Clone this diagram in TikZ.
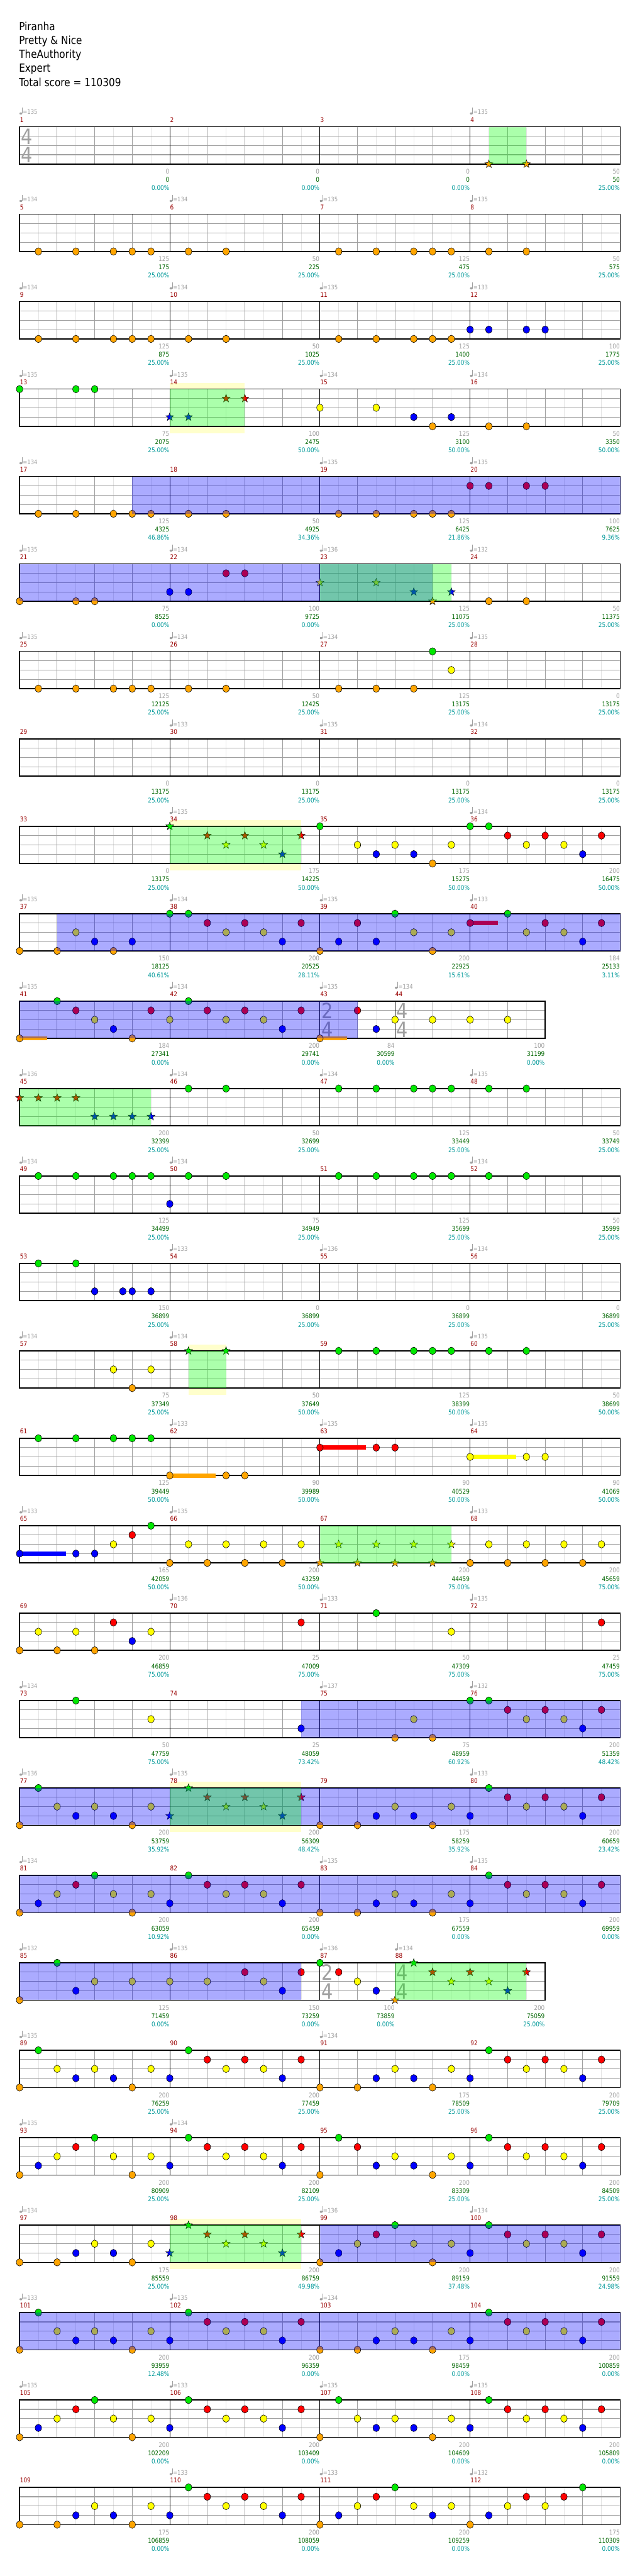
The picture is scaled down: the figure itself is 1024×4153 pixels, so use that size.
\documentclass[tikz,border=0pt]{standalone}
\usepackage{fontspec}
\setmainfont{DejaVu Sans}[FakeStretch=0.86]
\usepackage{tikz}
\definecolor{lane0}{HTML}{00E800}
\definecolor{lane1}{HTML}{FF0000}
\definecolor{lane2}{HTML}{FFFF00}
\definecolor{lane3}{HTML}{0000FF}
\definecolor{lane4}{HTML}{FFA500}
\definecolor{measred}{HTML}{990000}
\definecolor{markgrey}{HTML}{A0A0A0}
\definecolor{totalgreen}{HTML}{006600}
\definecolor{sharecyan}{HTML}{009999}
\definecolor{gridlight}{HTML}{E4E4E4}
\definecolor{gridmid}{HTML}{A0A0A0}
\definecolor{whammyyellow}{HTML}{FFFFCC}

\def\xo{31.6}
\def\ew{30.27}

\newcommand{\rowtop}[1]{\pgfmathsetmacro{\ytop}{204.5+(#1-1)*140.95}}

\newcommand{\staff}[3]{%
  \pgfmathtruncatemacro{\nlast}{#2-1}%
  \fill[white] (\xo,#1) rectangle ({\xo+#2*\ew},{#1+60});
  \foreach \kk in {1,...,\nlast}{%
    \pgfmathtruncatemacro{\oddk}{mod(\kk,2)}%
    \ifnum\oddk=1\relax
      \draw[eighthline] ({\xo+\kk*\ew},#1) -- ({\xo+\kk*\ew},{#1+60});
    \else
      \draw[beatline] ({\xo+\kk*\ew},#1) -- ({\xo+\kk*\ew},{#1+60});
    \fi}
  \foreach \lanek in {1,2,3}
    \draw[laneline] (\xo,{#1+\lanek*15}) -- ({\xo+#2*\ew},{#1+\lanek*15});
  \foreach \barx in {#3}
    \draw[barline] ({\xo+\barx*\ew},#1) -- ({\xo+\barx*\ew},{#1+60});
  \draw[staffframe] (\xo,#1) rectangle ({\xo+#2*\ew},{#1+60});
}

\newcommand{\gems}[3]{%
  \foreach \ei in {#3}
    \filldraw[gem, fill=lane#2] ({\xo+\ei*\ew},{#1+#2*15}) ellipse [x radius=5.2pt, y radius=6pt];}

\newcommand{\stars}[3]{%
  \foreach \ei in {#3}
    \filldraw[starnote, fill=lane#2] ({\xo+\ei*\ew},{#1+#2*15})
      +(90:6.8pt) -- +(126:2.8pt) -- +(162:6.8pt) -- +(198:2.8pt) -- +(234:6.8pt)
      -- +(270:2.8pt) -- +(306:6.8pt) -- +(342:2.8pt) -- +(18:6.8pt) -- +(54:2.8pt) -- cycle;}

\newcommand{\sustain}[4]{%
  \fill[lane#2] ({\xo+#3*\ew},{#1+#2*15-3.5}) rectangle ({\xo+#4*\ew},{#1+#2*15+3.5});}

\newcommand{\spark}[3]{\fill[activation] ({\xo+#2*\ew},#1) rectangle ({\xo+#3*\ew},{#1+60});}
\newcommand{\phrase}[3]{\fill[spphrase] ({\xo+#2*\ew},#1) rectangle ({\xo+#3*\ew},{#1+60});}
\newcommand{\glow}[3]{\fill[whammy] ({\xo+#2*\ew},{#1-10}) rectangle ({\xo+#3*\ew},{#1+71});}

\newcommand{\timesig}[5]{%
  \node[sigdigit] (#5up) at ({\xo+#2*\ew+2},{#1+28}) {#3};
  \node[sigdigit] (#5dn) at ({\xo+#2*\ew+2},{#1+58}) {#4};}

\newcommand{\tempos}[2]{%
  \foreach \ei/\meas/\bpm in {#2}{
    \fill[markgrey] ({\xo+\ei*\ew+2},{#1-21.5}) ellipse [x radius=2.3pt, y radius=1.8pt];
    \draw[tempomark] ({\xo+\ei*\ew+4.1},{#1-21.5}) -- ({\xo+\ei*\ew+4.1},{#1-31});
    \node[tempotext] (tp\meas) at ({\xo+\ei*\ew+5},{#1-20}) {=\bpm};}}

\newcommand{\mnums}[3]{%
  \foreach \ei [count=\ii from 0] in {#3}{
    \pgfmathtruncatemacro{\meas}{#2+\ii}
    \node[measnum] (mn\meas) at ({\xo+\ei*\ew+0.5},{#1-7.6}) {\meas};}}

\newcommand{\scores}[3]{%
  \foreach \ei/\gn/\tot/\pct [count=\ii from 0] in {#3}{
    \pgfmathtruncatemacro{\meas}{#2+\ii}
    \node[gain] (gn\meas) at ({\xo+\ei*\ew-0.5},{#1+76}) {\gn};
    \node[total] (tt\meas) at ({\xo+\ei*\ew-0.5},{#1+89.3}) {\tot};
    \node[share] (sh\meas) at ({\xo+\ei*\ew-0.5},{#1+102.6}) {\pct\%};}}

\begin{document}
\begin{tikzpicture}[
  x=1pt, y=-1pt,
  eighthline/.style={draw=gridlight, line width=0.8pt},
  beatline/.style={draw=gridmid, line width=0.8pt},
  laneline/.style={draw=gridmid, line width=1.2pt},
  barline/.style={draw=black, line width=0.8pt},
  staffframe/.style={draw=black, line width=1.4pt},
  gem/.style={draw=black, line width=0.6pt},
  starnote/.style={draw=black, line width=0.5pt, line join=miter},
  activation/.style={fill=lane3, fill opacity=0.33},
  spphrase/.style={fill=green, fill opacity=0.33},
  whammy/.style={fill=whammyyellow},
  tempomark/.style={draw=markgrey, line width=0.7pt},
  tempotext/.style={anchor=base west, inner sep=0pt, text=markgrey, font=\fontsize{10}{12}\selectfont},
  measnum/.style={anchor=base west, inner sep=0pt, text=measred, font=\fontsize{10.5}{12}\selectfont},
  gain/.style={anchor=base east, inner sep=0pt, text=markgrey, font=\fontsize{10.5}{12}\selectfont},
  total/.style={anchor=base east, inner sep=0pt, text=totalgreen, font=\fontsize{10.5}{12}\selectfont},
  share/.style={anchor=base east, inner sep=0pt, text=sharecyan, font=\fontsize{10.5}{12}\selectfont},
  sigdigit/.style={anchor=base west, inner sep=0pt, text=markgrey, font=\fontsize{34}{34}\selectfont},
  titletext/.style={anchor=base west, inner sep=0pt, font=\fontsize{18}{20}\selectfont}
]
\useasboundingbox (0,0) rectangle (1024,4153);
\fill[white] (0,0) rectangle (1024,4153);

\node[titletext] (song) at (30.5,48.8) {Piranha};
\node[titletext] (band) at (30.5,71.4) {Pretty \& Nice};
\node[titletext] (charter) at (30.5,94) {TheAuthority};
\node[titletext] (level) at (30.5,116.6) {Expert};
\node[titletext] (total) at (30.5,139.2) {Total score = 110309};

% measures 1-4
\rowtop{1}
\staff{\ytop}{32}{8,16,24}
\timesig{\ytop}{0}{4}{4}{sigA}
\stars{\ytop}{4}{25,27}
\phrase{\ytop}{25}{27}
\tempos{\ytop}{0/1/135,24/4/135}
\mnums{\ytop}{1}{0,8,16,24}
\scores{\ytop}{1}{8/0/0/0.00,16/0/0/0.00,24/0/0/0.00,32/50/50/25.00}

% measures 5-8
\rowtop{2}
\staff{\ytop}{32}{8,16,24}
\gems{\ytop}{4}{1,3,5,6,7,9,11,17,19,21,22,23,25,27}
\tempos{\ytop}{0/5/134,8/6/134,16/7/135,24/8/135}
\mnums{\ytop}{5}{0,8,16,24}
\scores{\ytop}{5}{8/125/175/25.00,16/50/225/25.00,24/125/475/25.00,32/50/575/25.00}

% measures 9-12
\rowtop{3}
\staff{\ytop}{32}{8,16,24}
\gems{\ytop}{4}{1,3,5,6,7,9,11,17,19,21,22,23}
\gems{\ytop}{3}{24,25,27,28}
\tempos{\ytop}{0/9/134,8/10/134,16/11/135,24/12/133}
\mnums{\ytop}{9}{0,8,16,24}
\scores{\ytop}{9}{8/125/875/25.00,16/50/1025/25.00,24/125/1400/25.00,32/100/1775/25.00}

% measures 13-16
\rowtop{4}
\glow{\ytop}{8}{12}
\staff{\ytop}{32}{8,16,24}
\gems{\ytop}{0}{0,3,4}
\gems{\ytop}{2}{16,19}
\gems{\ytop}{3}{21,23}
\gems{\ytop}{4}{22,25,27}
\stars{\ytop}{3}{8,9}
\stars{\ytop}{1}{11,12}
\phrase{\ytop}{8}{12}
\tempos{\ytop}{0/13/135,8/14/135,16/15/134,24/16/134}
\mnums{\ytop}{13}{0,8,16,24}
\scores{\ytop}{13}{8/75/2075/25.00,16/100/2475/50.00,24/125/3100/50.00,32/50/3350/50.00}

% measures 17-20
\rowtop{5}
\staff{\ytop}{32}{8,16,24}
\gems{\ytop}{4}{1,3,5,6,7,9,11,17,19,21,22,23}
\gems{\ytop}{1}{24,25,27,28}
\spark{\ytop}{6}{32}
\tempos{\ytop}{0/17/134,16/19/135,24/20/135}
\mnums{\ytop}{17}{0,8,16,24}
\scores{\ytop}{17}{8/125/4325/46.86,16/50/4925/34.36,24/125/6425/21.86,32/100/7625/9.36}

% measures 21-24
\rowtop{6}
\staff{\ytop}{32}{8,16,24}
\gems{\ytop}{4}{0,3,4,25,27}
\gems{\ytop}{3}{8,9}
\gems{\ytop}{1}{11,12}
\stars{\ytop}{2}{16,19}
\stars{\ytop}{3}{21,23}
\stars{\ytop}{4}{22}
\spark{\ytop}{0}{22}
\phrase{\ytop}{16}{23}
\tempos{\ytop}{0/21/135,8/22/134,16/23/136,24/24/132}
\mnums{\ytop}{21}{0,8,16,24}
\scores{\ytop}{21}{8/75/8525/0.00,16/100/9725/0.00,24/125/11075/25.00,32/50/11375/25.00}

% measures 25-28
\rowtop{7}
\staff{\ytop}{32}{8,16,24}
\gems{\ytop}{4}{1,3,5,6,7,9,11,17,19,21}
\gems{\ytop}{0}{22}
\gems{\ytop}{2}{23}
\tempos{\ytop}{0/25/135,8/26/134,16/27/134,24/28/135}
\mnums{\ytop}{25}{0,8,16,24}
\scores{\ytop}{25}{8/125/12125/25.00,16/50/12425/25.00,24/125/13175/25.00,32/0/13175/25.00}

% measures 29-32
\rowtop{8}
\staff{\ytop}{32}{8,16,24}
\tempos{\ytop}{8/30/133,16/31/135,24/32/134}
\mnums{\ytop}{29}{0,8,16,24}
\scores{\ytop}{29}{8/0/13175/25.00,16/0/13175/25.00,24/0/13175/25.00,32/0/13175/25.00}

% measures 33-36
\rowtop{9}
\glow{\ytop}{8}{15}
\staff{\ytop}{32}{8,16,24}
\stars{\ytop}{0}{8}
\stars{\ytop}{1}{10,12,15}
\stars{\ytop}{2}{11,13}
\stars{\ytop}{3}{14}
\gems{\ytop}{0}{16,24,25}
\gems{\ytop}{1}{26,28,31}
\gems{\ytop}{2}{18,20,23,27,29}
\gems{\ytop}{3}{19,21,30}
\gems{\ytop}{4}{22}
\phrase{\ytop}{8}{15}
\tempos{\ytop}{8/34/135,24/36/134}
\mnums{\ytop}{33}{0,8,16,24}
\scores{\ytop}{33}{8/0/13175/25.00,16/175/14225/50.00,24/175/15275/50.00,32/200/16475/50.00}

% measures 37-40
\rowtop{10}
\staff{\ytop}{32}{8,16,24}
\sustain{\ytop}{1}{24}{25.48}
\gems{\ytop}{4}{0,2,5,16,22}
\gems{\ytop}{2}{3,11,13,21,23,27,29}
\gems{\ytop}{3}{4,6,14,17,19,30}
\gems{\ytop}{0}{8,9,20,26}
\gems{\ytop}{1}{10,12,15,18,24,28,31}
\spark{\ytop}{2}{32}
\tempos{\ytop}{0/37/135,8/38/134,16/39/135,24/40/133}
\mnums{\ytop}{37}{0,8,16,24}
\scores{\ytop}{37}{8/150/18125/40.61,16/200/20525/28.11,24/200/22925/15.61,32/184/25133/3.11}

% measures 41-44
\rowtop{11}
\staff{\ytop}{28}{8,16,20}
\timesig{\ytop}{16}{2}{4}{sigB}
\timesig{\ytop}{20}{4}{4}{sigC}
\sustain{\ytop}{4}{0}{1.46}
\sustain{\ytop}{4}{16}{17.46}
\gems{\ytop}{4}{0,6,16}
\gems{\ytop}{0}{2,9}
\gems{\ytop}{1}{3,7,10,12,15,18}
\gems{\ytop}{2}{4,8,11,13,20,22,24,26}
\gems{\ytop}{3}{5,14,19}
\spark{\ytop}{0}{18}
\tempos{\ytop}{0/41/135,8/42/134,16/43/135,20/44/134}
\mnums{\ytop}{41}{0,8,16,20}
\scores{\ytop}{41}{8/184/27341/0.00,16/200/29741/0.00,20/84/30599/0.00,28/100/31199/0.00}

% measures 45-48
\rowtop{12}
\staff{\ytop}{32}{8,16,24}
\stars{\ytop}{1}{0,1,2,3}
\stars{\ytop}{3}{4,5,6,7}
\gems{\ytop}{0}{9,11,17,19,21,22,23,25,27}
\phrase{\ytop}{0}{7}
\tempos{\ytop}{0/45/136,8/46/134,16/47/134,24/48/135}
\mnums{\ytop}{45}{0,8,16,24}
\scores{\ytop}{45}{8/200/32399/25.00,16/50/32699/25.00,24/125/33449/25.00,32/50/33749/25.00}

% measures 49-52
\rowtop{13}
\staff{\ytop}{32}{8,16,24}
\gems{\ytop}{0}{1,3,5,6,7,9,11,17,19,21,22,23,25,27}
\gems{\ytop}{3}{8}
\tempos{\ytop}{0/49/134,8/50/134,24/52/134}
\mnums{\ytop}{49}{0,8,16,24}
\scores{\ytop}{49}{8/125/34499/25.00,16/75/34949/25.00,24/125/35699/25.00,32/50/35999/25.00}

% measures 53-56
\rowtop{14}
\staff{\ytop}{32}{8,16,24}
\gems{\ytop}{0}{1,3}
\gems{\ytop}{3}{4,5.5,6,7}
\tempos{\ytop}{8/54/133,16/55/136,24/56/134}
\mnums{\ytop}{53}{0,8,16,24}
\scores{\ytop}{53}{8/150/36899/25.00,16/0/36899/25.00,24/0/36899/25.00,32/0/36899/25.00}

% measures 57-60
\rowtop{15}
\glow{\ytop}{9}{11}
\staff{\ytop}{32}{8,16,24}
\gems{\ytop}{2}{5,7}
\gems{\ytop}{4}{6}
\gems{\ytop}{0}{17,19,21,22,23,25,27}
\stars{\ytop}{0}{9,11}
\phrase{\ytop}{9}{11}
\tempos{\ytop}{0/57/134,8/58/134,24/60/135}
\mnums{\ytop}{57}{0,8,16,24}
\scores{\ytop}{57}{8/75/37349/25.00,16/50/37649/50.00,24/125/38399/50.00,32/50/38699/50.00}

% measures 61-64
\rowtop{16}
\staff{\ytop}{32}{8,16,24}
\sustain{\ytop}{4}{8}{10.45}
\sustain{\ytop}{1}{16}{18.45}
\sustain{\ytop}{2}{24}{26.45}
\gems{\ytop}{0}{1,3,5,6,7}
\gems{\ytop}{4}{8,11,12}
\gems{\ytop}{1}{16,19,20}
\gems{\ytop}{2}{24,27,28}
\tempos{\ytop}{8/62/133,16/63/135,24/64/135}
\mnums{\ytop}{61}{0,8,16,24}
\scores{\ytop}{61}{8/125/39449/50.00,16/90/39989/50.00,24/90/40529/50.00,32/90/41069/50.00}

% measures 65-68
\rowtop{17}
\staff{\ytop}{32}{8,16,24}
\sustain{\ytop}{3}{0}{2.48}
\gems{\ytop}{3}{0,3,4}
\gems{\ytop}{2}{5,9,11,13,15,25,27,29,31}
\gems{\ytop}{1}{6}
\gems{\ytop}{0}{7}
\gems{\ytop}{4}{8,10,12,14,24,26,28,30}
\stars{\ytop}{2}{17,19,21,23}
\stars{\ytop}{4}{16,18,20,22}
\phrase{\ytop}{16}{23}
\tempos{\ytop}{0/65/133,8/66/135,24/68/133}
\mnums{\ytop}{65}{0,8,16,24}
\scores{\ytop}{65}{8/165/42059/50.00,16/200/43259/50.00,24/200/44459/75.00,32/200/45659/75.00}

% measures 69-72
\rowtop{18}
\staff{\ytop}{32}{8,16,24}
\gems{\ytop}{4}{0,2,4}
\gems{\ytop}{2}{1,3,7,23}
\gems{\ytop}{1}{5,15,31}
\gems{\ytop}{3}{6}
\gems{\ytop}{0}{19}
\tempos{\ytop}{8/70/136,16/71/133,24/72/135}
\mnums{\ytop}{69}{0,8,16,24}
\scores{\ytop}{69}{8/200/46859/75.00,16/25/47009/75.00,24/50/47309/75.00,32/25/47459/75.00}

% measures 73-76
\rowtop{19}
\staff{\ytop}{32}{8,16,24}
\gems{\ytop}{0}{3,24,25}
\gems{\ytop}{2}{7,21,27,29}
\gems{\ytop}{3}{15,30}
\gems{\ytop}{4}{20,22}
\gems{\ytop}{1}{26,28,31}
\spark{\ytop}{15}{32}
\tempos{\ytop}{0/73/134,16/75/137,24/76/132}
\mnums{\ytop}{73}{0,8,16,24}
\scores{\ytop}{73}{8/50/47759/75.00,16/25/48059/73.42,24/75/48959/60.92,32/200/51359/48.42}

% measures 77-80
\rowtop{20}
\glow{\ytop}{8}{15}
\staff{\ytop}{32}{8,16,24}
\gems{\ytop}{4}{0,6,16,18,22}
\gems{\ytop}{0}{1,25}
\gems{\ytop}{2}{2,4,7,20,23,27,29}
\gems{\ytop}{3}{3,5,19,21,24,30}
\gems{\ytop}{1}{26,28,31}
\stars{\ytop}{3}{8,14}
\stars{\ytop}{0}{9}
\stars{\ytop}{1}{10,12,15}
\stars{\ytop}{2}{11,13}
\spark{\ytop}{0}{32}
\phrase{\ytop}{8}{15}
\tempos{\ytop}{0/77/136,8/78/135,24/80/133}
\mnums{\ytop}{77}{0,8,16,24}
\scores{\ytop}{77}{8/200/53759/35.92,16/200/56309/48.42,24/175/58259/35.92,32/200/60659/23.42}

% measures 81-84
\rowtop{21}
\staff{\ytop}{32}{8,16,24}
\gems{\ytop}{4}{0,6,16,18,22}
\gems{\ytop}{3}{1,8,14,19,21,24,30}
\gems{\ytop}{2}{2,5,7,11,13,20,23,27,29}
\gems{\ytop}{1}{3,10,12,15,26,28,31}
\gems{\ytop}{0}{4,9,25}
\spark{\ytop}{0}{32}
\tempos{\ytop}{0/81/134,16/83/135,24/84/135}
\mnums{\ytop}{81}{0,8,16,24}
\scores{\ytop}{81}{8/200/63059/10.92,16/200/65459/0.00,24/175/67559/0.00,32/200/69959/0.00}

% measures 85-88
\rowtop{22}
\staff{\ytop}{28}{8,16,20}
\timesig{\ytop}{16}{2}{4}{sigD}
\timesig{\ytop}{20}{4}{4}{sigE}
\gems{\ytop}{4}{0}
\gems{\ytop}{0}{2,16}
\gems{\ytop}{3}{3,14,19}
\gems{\ytop}{2}{4,6,8,10,13,18}
\gems{\ytop}{1}{12,15,17}
\stars{\ytop}{4}{20}
\stars{\ytop}{0}{21}
\stars{\ytop}{1}{22,24,27}
\stars{\ytop}{2}{23,25}
\stars{\ytop}{3}{26}
\spark{\ytop}{0}{15}
\phrase{\ytop}{20}{27}
\tempos{\ytop}{0/85/132,8/86/135,16/87/136,20/88/134}
\mnums{\ytop}{85}{0,8,16,20}
\scores{\ytop}{85}{8/125/71459/0.00,16/150/73259/0.00,20/100/73859/0.00,28/200/75059/25.00}

% measures 89-92
\rowtop{23}
\staff{\ytop}{32}{8,16,24}
\gems{\ytop}{4}{0,6,16,18,22}
\gems{\ytop}{0}{1,9,25}
\gems{\ytop}{2}{2,4,7,11,13,20,23,27,29}
\gems{\ytop}{3}{3,5,8,14,19,21,24,30}
\gems{\ytop}{1}{10,12,15,26,28,31}
\tempos{\ytop}{0/89/135,16/91/134}
\mnums{\ytop}{89}{0,8,16,24}
\scores{\ytop}{89}{8/200/76259/25.00,16/200/77459/25.00,24/175/78509/25.00,32/200/79709/25.00}

% measures 93-96
\rowtop{24}
\staff{\ytop}{32}{8,16,24}
\gems{\ytop}{4}{0,6,16,22}
\gems{\ytop}{3}{1,8,14,19,21,24,30}
\gems{\ytop}{2}{2,5,7,11,13,20,23,27,29}
\gems{\ytop}{1}{3,10,12,15,18,26,28,31}
\gems{\ytop}{0}{4,9,17,25}
\tempos{\ytop}{0/93/135,8/94/134}
\mnums{\ytop}{93}{0,8,16,24}
\scores{\ytop}{93}{8/200/80909/25.00,16/200/82109/25.00,24/200/83309/25.00,32/200/84509/25.00}

% measures 97-100
\rowtop{25}
\glow{\ytop}{8}{15}
\staff{\ytop}{32}{8,16,24}
\gems{\ytop}{4}{0,2,6,16,22}
\gems{\ytop}{3}{3,5,17,24,30}
\gems{\ytop}{2}{4,7,18,21,23,27,29}
\gems{\ytop}{1}{19,26,28,31}
\gems{\ytop}{0}{20,25}
\stars{\ytop}{3}{8,14}
\stars{\ytop}{0}{9}
\stars{\ytop}{1}{10,12,15}
\stars{\ytop}{2}{11,13}
\phrase{\ytop}{8}{15}
\spark{\ytop}{16}{32}
\tempos{\ytop}{0/97/134,16/99/136,24/100/134}
\mnums{\ytop}{97}{0,8,16,24}
\scores{\ytop}{97}{8/175/85559/25.00,16/200/86759/49.98,24/200/89159/37.48,32/200/91559/24.98}

% measures 101-104
\rowtop{26}
\staff{\ytop}{32}{8,16,24}
\gems{\ytop}{4}{0,6,16,18,22}
\gems{\ytop}{0}{1,9,25}
\gems{\ytop}{2}{2,4,7,11,13,20,23,27,29}
\gems{\ytop}{3}{3,5,8,14,19,21,24,30}
\gems{\ytop}{1}{10,12,15,26,28,31}
\spark{\ytop}{0}{32}
\tempos{\ytop}{0/101/133,8/102/135,16/103/134}
\mnums{\ytop}{101}{0,8,16,24}
\scores{\ytop}{101}{8/200/93959/12.48,16/200/96359/0.00,24/175/98459/0.00,32/200/100859/0.00}

% measures 105-108
\rowtop{27}
\staff{\ytop}{32}{8,16,24}
\gems{\ytop}{4}{0,6,16,22}
\gems{\ytop}{3}{1,8,14,19,21,24,30}
\gems{\ytop}{2}{2,5,7,11,13,18,20,23,27,29}
\gems{\ytop}{1}{3,10,12,15,26,28,31}
\gems{\ytop}{0}{4,9,17,25}
\tempos{\ytop}{0/105/135,8/106/133,16/107/135,24/108/135}
\mnums{\ytop}{105}{0,8,16,24}
\scores{\ytop}{105}{8/200/102209/0.00,16/200/103409/0.00,24/200/104609/0.00,32/200/105809/0.00}

% measures 109-112
\rowtop{28}
\staff{\ytop}{32}{8,16,24}
\gems{\ytop}{4}{0,2,6,16,24}
\gems{\ytop}{3}{3,5,8,14,17,22,25}
\gems{\ytop}{2}{4,7,11,13,18,21,23,26,28}
\gems{\ytop}{1}{10,12,15,19,27,29}
\gems{\ytop}{0}{9,20,30}
\tempos{\ytop}{8/110/133,16/111/133,24/112/132}
\mnums{\ytop}{109}{0,8,16,24}
\scores{\ytop}{109}{8/175/106859/0.00,16/200/108059/0.00,24/200/109259/0.00,32/175/110309/0.00}

\end{tikzpicture}
\end{document}
